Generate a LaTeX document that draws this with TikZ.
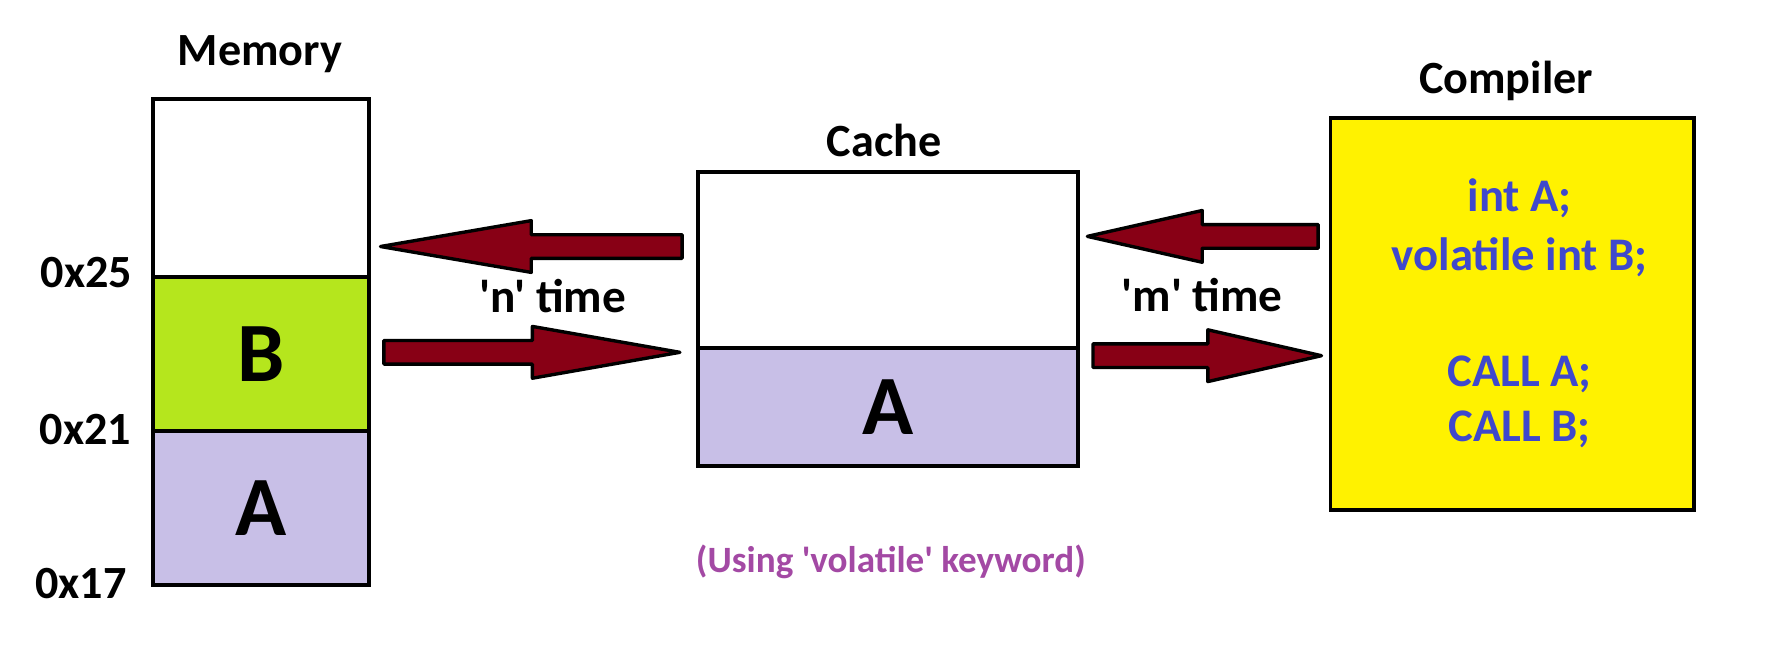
\documentclass[tikz,border=0pt]{standalone}
\usepackage{fontspec}
\setmainfont{Carlito}[Ligatures=TeXOff]
\usetikzlibrary{calc}
\definecolor{limeB}{HTML}{B5E61D}
\definecolor{lavA}{HTML}{C8BFE7}
\definecolor{yelC}{HTML}{FFF200}
\definecolor{codeblue}{HTML}{3F48CC}
\definecolor{arrowred}{HTML}{880015}
\definecolor{noteviolet}{HTML}{A349A4}
\tikzset{
  cell/.style={draw=black, line width=3.5pt, inner sep=0pt, outer sep=0pt,
    font=\bfseries\fontsize{75}{80}\selectfont},
  title/.style={font=\bfseries\fontsize{41}{48}\selectfont, anchor=base, inner sep=0pt},
  addr/.style={font=\bfseries\fontsize{41}{48}\selectfont, anchor=base, inner sep=0pt},
  codeline/.style={font=\bfseries\fontsize{41.5}{48}\selectfont, text=codeblue, anchor=base, inner sep=0pt},
  timelbl/.style={font=\bfseries\fontsize{42}{48}\selectfont, anchor=base, inner sep=0pt},
  note/.style={font=\bfseries\fontsize{33}{40}\selectfont, text=noteviolet, anchor=base, inner sep=0pt},
  blockarr/.style={fill=arrowred, draw=black, line width=3pt, line join=round},
}
\newcommand{\blockarrow}[3]{%
  \draw[blockarr] let \p1=(#1), \p2=(#2) in
    (\x1,\y2+10.5pt) -- ({\x2-(#3)},\y2+10.5pt) -- ({\x2-(#3)},\y2+23pt) --
    (\x2,\y2) -- ({\x2-(#3)},\y2-23pt) -- ({\x2-(#3)},\y2-10.5pt) --
    (\x1,\y2-10.5pt) -- cycle;}
\begin{document}
\begin{tikzpicture}[x=1pt, y=-1pt]
\useasboundingbox (0,0) rectangle (1568,577);
% Memory
\node[title] (memt) at (231,58) {Memory};
\node[cell, fill=white, minimum width=192pt, minimum height=158pt] (memfree) at (232,167) {};
\node[cell, fill=limeB, minimum width=192pt, minimum height=137pt] (memB) at (232,314.5) {B};
\node[cell, fill=lavA, minimum width=192pt, minimum height=137pt] (memA) at (232,451.5) {A};
\node[addr] (a25) at (77,255) {0x25};
\node[addr] (a21) at (76,395) {0x21};
\node[addr] (a17) at (72,531.5) {0x17};
% Cache
\node[title] (cacht) at (785.5,139) {Cache};
\node[cell, fill=white, minimum width=338pt, minimum height=156pt] (cfree) at (789,231) {};
\node[cell, fill=lavA, minimum width=338pt, minimum height=105pt] (cA) at (789,361.5) {A};
% Compiler
\node[title] (compt) at (1338,83) {Compiler};
\node[cell, fill=yelC, minimum width=323pt, minimum height=348pt] (comp) at (1343.5,279) {};
\node[codeline] (c1) at (1350,188) {int A;};
\node[codeline] (c2) at (1350,240) {volatile int B;};
\node[codeline] (c3) at (1350,343.5) {CALL A;};
\node[codeline] (c4) at (1350,392.5) {CALL B;};
% arrow end points
\coordinate (n1s) at (606,219);
\coordinate (n1e) at (338,219);
\coordinate (n2s) at (341,313);
\coordinate (n2e) at (604,313);
\coordinate (m1s) at (1171,210);
\coordinate (m1e) at (966,210);
\coordinate (m2s) at (971,316);
\coordinate (m2e) at (1174,316);
\blockarrow{n1s}{n1e}{-134pt}
\blockarrow{n2s}{n2e}{131pt}
\blockarrow{m1s}{m1e}{-102pt}
\blockarrow{m2s}{m2e}{101pt}
\node[timelbl] (nt) at (491,278) {'n' time};
\node[timelbl] (mt) at (1068,277) {'m' time};
\node[note] (nt2) at (791.5,509) {(Using 'volatile' keyword)};
\end{tikzpicture}
\end{document}
